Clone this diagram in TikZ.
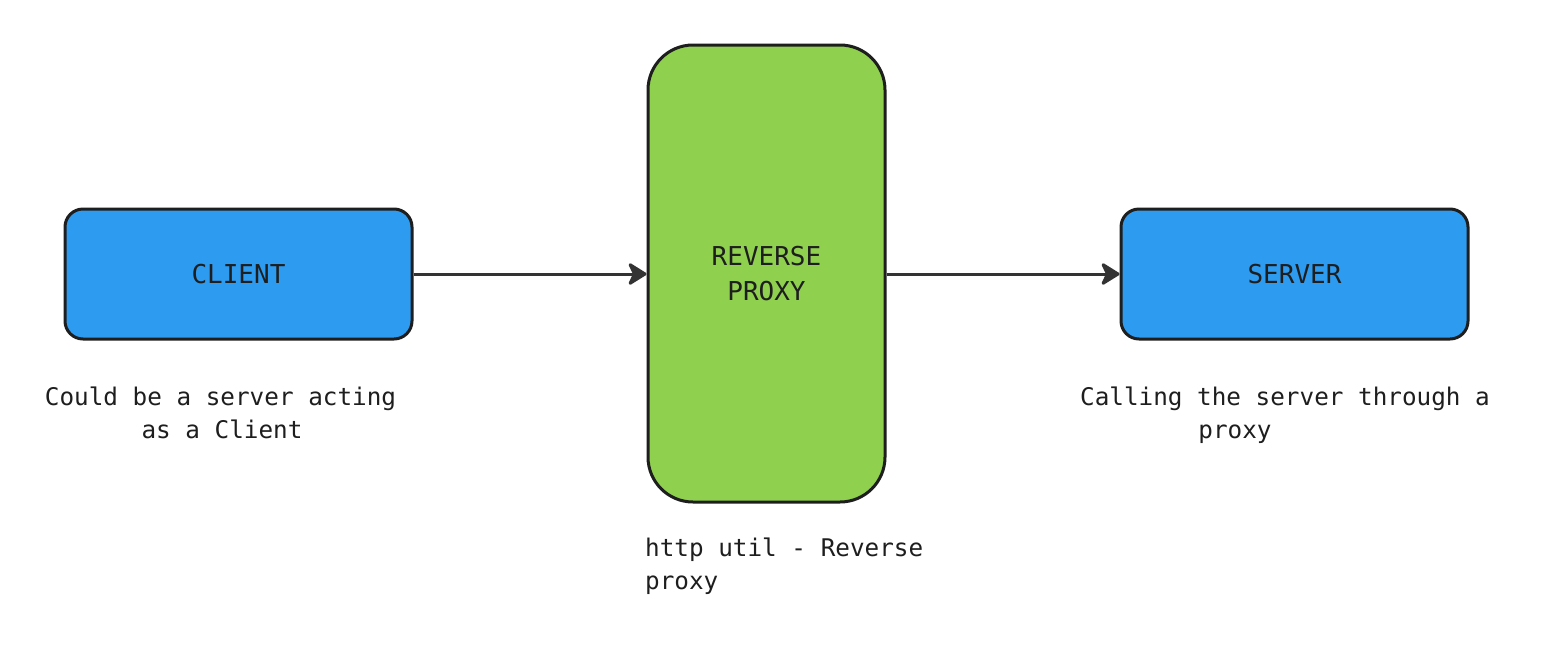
\documentclass[tikz,border=0pt]{standalone}
\usepackage{fontspec}
\setmonofont{DejaVu Sans Mono}
\usetikzlibrary{arrows.meta}
\definecolor{ink}{HTML}{1E1E1E}
\definecolor{arrowink}{HTML}{333333}
\definecolor{boxblue}{HTML}{2D9BF0}
\definecolor{boxgreen}{HTML}{8FD14F}
\tikzset{
  box/.style={draw=ink, line width=3pt, rounded corners=18pt, inner sep=0pt,
    font=\ttfamily\fontsize{26}{35}\selectfont, text=ink, align=center},
  caption/.style={font=\ttfamily\fontsize{24.3}{33}\selectfont, text=ink, inner sep=0pt,
    text height=18pt, text depth=5pt},
  conn/.style={draw=arrowink, line width=3pt, -{Stealth[length=21pt,width=26pt,inset=6pt,round]}}
}
\begin{document}
\begin{tikzpicture}[x=1pt,y=-1pt]
\useasboundingbox (0,0) rectangle (1547,646);
\fill[white] (0,0) rectangle (1547,646);
\node[box, fill=boxblue, minimum width=347pt, minimum height=130pt] (client) at (238.5,274) {CLIENT};
\node[box, fill=boxgreen, minimum width=237pt, minimum height=457pt, rounded corners=45pt] (proxy) at (766.5,273.5) {REVERSE\\PROXY};
\node[box, fill=boxblue, minimum width=347pt, minimum height=130pt] (server) at (1294.5,274) {SERVER};
\draw[conn] (client.east) -- (proxy.west |- client.east);
\draw[conn] (proxy.east |- server.west) -- (server.west);
\node[caption] (c1a) at (220.5,399) {Could be a server acting};
\node[caption] (c1b) at (222,432) {as a Client};
\node[caption, anchor=west] (c2a) at (645,550) {http util - Reverse};
\node[caption, anchor=west] (c2b) at (645,583) {proxy};
\node[caption] (c3a) at (1285,399) {Calling the server through a};
\node[caption] (c3b) at (1235,432) {proxy};
\end{tikzpicture}
\end{document}
